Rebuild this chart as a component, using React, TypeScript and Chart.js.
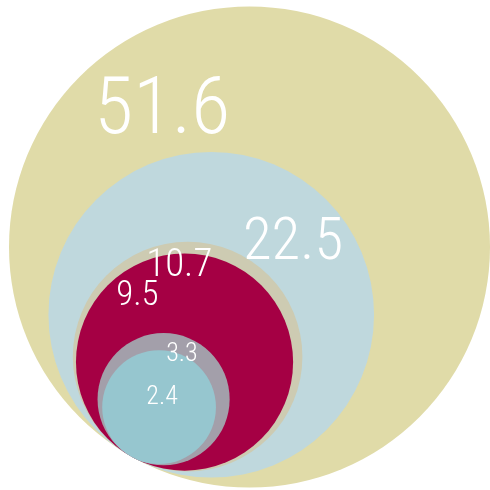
import { useEffect, useRef } from "react";
import { Chart, registerables } from "chart.js";

Chart.register(...registerables);

// ---- data ----
const values: number[] = [51.6, 22.5, 10.7, 9.5, 3.3, 2.4];
const valueLabels: string[] = ["51.6", "22.5", "10.7", "9.5", "3.3", "2.4"];

// ---- styles ----
const colors: string[] = ["#E0DBA8", "#BFD8DD", "#CDCBB2", "#A50044", "#A39FAA", "#96C6CF"];
const labelFontSizes: number[] = [80, 59, 39, 35, 26, 26];
const labelAngles: number[] = [238.5, 316.7, 265, 236, 291, 284]; // screen degrees from circle centre
const labelDistances: number[] = [0.695, 0.69, 0.83, 0.776, 0.775, 0.22]; // fraction of radius
const SIZE_EXPONENT = 0.47;
const TANGENT_ANGLE = 240.5; // data-space direction of the common tangent point

const vmax = Math.max(...values);
const relRadius = (v: number) => Math.pow(v / vmax, SIZE_EXPONENT);
const dirX = Math.cos((TANGENT_ANGLE * Math.PI) / 180);
const dirY = Math.sin((TANGENT_ANGLE * Math.PI) / 180);

const buildPoints = (unitPx: number) =>
  values.map((v) => {
    const rr = relRadius(v);
    const k = 1 - rr;
    return { x: k * dirX, y: k * dirY, r: rr * unitPx };
  });

const labelPlugin = {
  id: "nestedLabels",
  afterDatasetsDraw(chart: any) {
    const ctx = chart.ctx;
    const meta = chart.getDatasetMeta(0);
    ctx.save();
    ctx.fillStyle = "#ffffff";
    ctx.textAlign = "center";
    ctx.textBaseline = "alphabetic";
    meta.data.forEach((el: any, i: number) => {
      const r = el.options.radius || 0;
      const a = (labelAngles[i] * Math.PI) / 180;
      const cx = el.x + Math.cos(a) * r * labelDistances[i];
      const cy = el.y + Math.sin(a) * r * labelDistances[i];
      const fs = labelFontSizes[i];
      ctx.font = `300 ${fs}px "Roboto Condensed", Roboto, sans-serif`;
      ctx.fillText(valueLabels[i], cx, cy + fs * 0.355);
    });
    ctx.restore();
  },
};

export default function App() {
  const ref = useRef<HTMLCanvasElement | null>(null);
  useEffect(() => {
    if (!ref.current) return;
    const chart: any = new Chart(ref.current, {
      type: "bubble",
      data: {
        datasets: [
          {
            data: buildPoints(0),
            backgroundColor: colors,
            borderWidth: 0,
            hoverBorderWidth: 0,
            clip: false as any,
          } as any,
        ],
      },
      options: {
        animation: false,
        responsive: true,
        maintainAspectRatio: false,
        layout: { autoPadding: false, padding: { left: 9, right: 0, top: 6, bottom: 2 } } as any,
        scales: {
          x: { type: "linear", min: -1, max: 1, display: false },
          y: { type: "linear", min: -1, max: 1, display: false },
        },
        plugins: {
          legend: { display: false },
          tooltip: { enabled: false },
        },
        events: [],
      },
      plugins: [labelPlugin],
    });
    // size the bubbles from the x scale: 1 data unit = radius of the largest circle
    const s = chart.scales.x;
    const unit = Math.abs(s.getPixelForValue(1) - s.getPixelForValue(0));
    chart.data.datasets[0].data = buildPoints(unit);
    chart.update();
    return () => chart.destroy();
  }, []);
  return (
    <div style={{ position: "absolute", left: 0, top: 0, width: 490, height: 490, background: "#fff" }}>
      <canvas ref={ref} />
    </div>
  );
}
